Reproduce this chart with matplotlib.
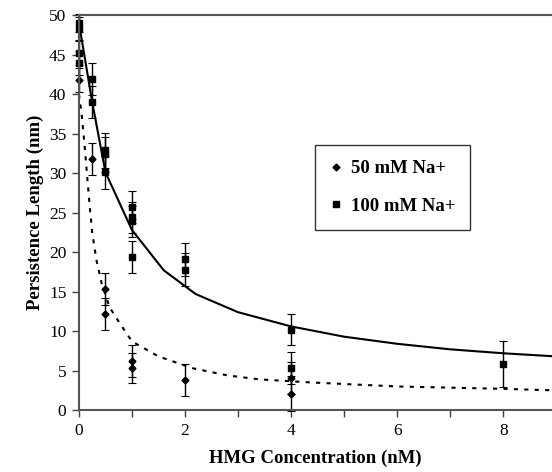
import matplotlib.pyplot as plt
from matplotlib.lines import Line2D

plt.rcParams['font.family'] = ['Liberation Serif', 'DejaVu Serif']

# measured points, 100 mM Na+ (squares)
x100 = [0, 0, 0, 0, 0.25, 0.25, 0.5, 0.5, 0.5, 1, 1, 1, 1, 2, 2, 4, 4, 8]
y100 = [49.0, 48.3, 45.2, 43.9, 41.9, 39.0, 32.9, 32.4, 30.1, 25.7, 24.4, 23.9, 19.4, 19.1, 17.8, 10.2, 5.3, 5.8]
e100 = [1.2, 1.5, 1.5, 1.5, 2.0, 2.0, 2.2, 2.2, 2.1, 2.0, 2.0, 2.0, 2.0, 2.1, 2.1, 2.0, 2.0, 2.9]

# measured points, 50 mM Na+ (diamonds)
x50 = [0, 0.25, 0.5, 0.5, 1, 1, 2, 4, 4]
y50 = [41.8, 31.8, 15.3, 12.2, 6.2, 5.3, 3.8, 4.1, 2.1]
e50 = [1.5, 2.0, 2.0, 2.0, 2.0, 1.9, 2.0, 2.0, 2.2]

# fitted curves
fit100_x = [0, 0.25, 0.5, 1, 1.6, 2.2, 3, 4, 5, 6, 7, 8, 9]
fit100_y = [49.0, 39.0, 30.1, 22.8, 17.7, 14.7, 12.4, 10.6, 9.3, 8.4, 7.7, 7.2, 6.8]
fit50_x = [0, 0.05, 0.1, 0.15, 0.2, 0.25, 0.33, 0.43, 0.58, 0.77, 1.0, 1.5, 2.15, 2.8, 3.4, 4.4, 6, 8, 9]
fit50_y = [40.0, 37.5, 34.0, 30.0, 26.0, 22.5, 19.0, 16.0, 13.0, 11.0, 8.7, 6.8, 5.3, 4.4, 3.9, 3.5, 3.0, 2.7, 2.5]

fig = plt.figure(figsize=(5.52, 4.72), dpi=100)
ax = fig.add_axes([0.143, 0.131, 0.857, 0.837])

ax.plot(fit100_x, fit100_y, color='black', lw=1.5)
ax.plot(fit50_x, fit50_y, color='black', lw=1.5, dashes=(2.0, 3.0))

for xs, ys, es, m, s in [(x100, y100, e100, 's', 5), (x50, y50, e50, 'D', 3.5)]:
    eb = ax.errorbar(xs, ys, yerr=es, fmt=m, color='black', ms=s,
                     ecolor='black', elinewidth=1, capsize=3, capthick=0.8)
    for art in eb.get_children():
        art.set_clip_on(False)

ax.set_xlim(0, 8.92)
ax.set_ylim(0, 50)
ax.set_xticks(range(0, 9))
ax.set_xticklabels(['0', '', '2', '', '4', '', '6', '', '8'])
ax.set_yticks(range(0, 51, 5))
ax.tick_params(direction='out', length=5, width=1, color='#404040', labelsize=12.5, pad=4)

for s in ['right']:
    ax.spines[s].set_visible(False)
for s in ['left', 'bottom', 'top']:
    ax.spines[s].set_color('#555555')
    ax.spines[s].set_linewidth(1.5)

ax.set_xlabel('HMG Concentration (nM)', fontsize=13.5, fontweight='bold', labelpad=8)
ax.set_ylabel('Persistence Length (nm)', fontsize=13.5, fontweight='bold', labelpad=4)

handles = [Line2D([], [], marker='D', ms=3.5, color='black', ls='none'),
           Line2D([], [], marker='s', ms=5, color='black', ls='none')]
leg = ax.legend(handles, ['50 mM Na+', '100 mM Na+'], loc='upper left',
                bbox_to_anchor=(0.499, 0.671), frameon=True, fancybox=False,
                edgecolor='black', prop={'weight': 'bold', 'size': 13.5},
                handlelength=0.6, handletextpad=0.5, labelspacing=1.1,
                borderpad=0.8, borderaxespad=0)
leg.get_frame().set_linewidth(1)

fig.savefig('out.png', dpi=100)
